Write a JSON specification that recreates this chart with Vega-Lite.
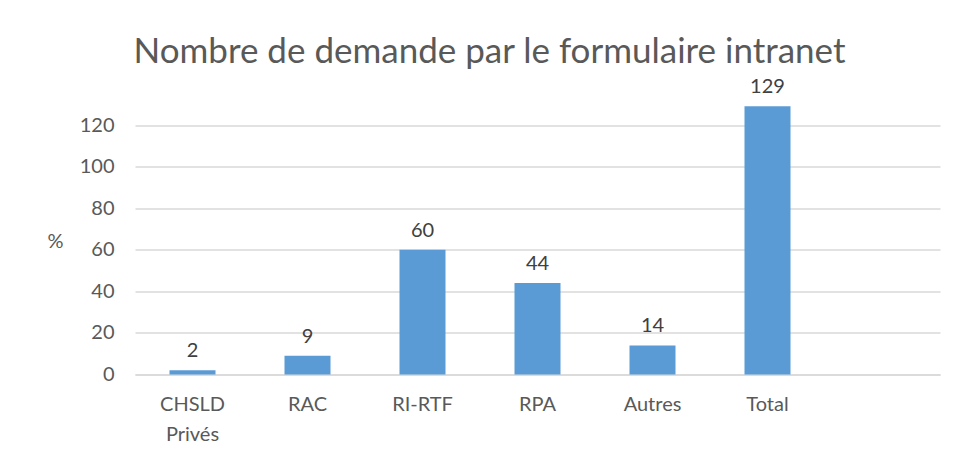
{
  "$schema": "https://vega.github.io/schema/vega-lite/v6.json",
  "width": 805,
  "height": 291,
  "autosize": {"type": "none"},
  "padding": {"left": 135, "top": 83.5, "right": 14, "bottom": 85.5},
  "background": "white",
  "title": {
    "text": "Nombre de demande par le formulaire intranet",
    "font": "Lato",
    "fontSize": 35,
    "fontWeight": "normal",
    "color": "#595959",
    "anchor": "middle",
    "dx": -48,
    "offset": 7
  },
  "data": {
    "values": [
      {"cat": "CHSLD Privés", "value": 2},
      {"cat": "RAC", "value": 9},
      {"cat": "RI-RTF", "value": 60},
      {"cat": "RPA", "value": 44},
      {"cat": "Autres", "value": 14},
      {"cat": "Total", "value": 129}
    ]
  },
  "encoding": {
    "x": {
      "field": "cat",
      "type": "nominal",
      "sort": null,
      "scale": {
        "domain": ["CHSLD Privés", "RAC", "RI-RTF", "RPA", "Autres", "Total", " "],
        "paddingInner": 0.6,
        "paddingOuter": 0.3
      },
      "axis": {
        "title": null,
        "labelAngle": 0,
        "labelFont": "Lato",
        "labelFontSize": 20,
        "labelColor": "#595959",
        "labelPadding": 20,
        "labelBaseline": "top",
        "labelLineHeight": 30,
        "labelExpr": "split(datum.value, ' ')",
        "ticks": false,
        "domainColor": "#d9d9d9",
        "domainWidth": 1.5,
        "grid": false
      }
    },
    "y": {
      "field": "value",
      "type": "quantitative",
      "scale": {"domain": [0, 140], "nice": false},
      "axis": {
        "title": "%",
        "titleAngle": 0,
        "titleFont": "Lato",
        "titleFontSize": 20,
        "titleFontWeight": "normal",
        "titleColor": "#595959",
        "titleX": -80,
        "titleY": 158,
        "titleAlign": "center",
        "titleBaseline": "middle",
        "values": [0, 20, 40, 60, 80, 100, 120],
        "labelFont": "Lato",
        "labelFontSize": 20,
        "labelColor": "#595959",
        "labelPadding": 21,
        "ticks": false,
        "domain": false,
        "grid": true,
        "gridColor": "#d9d9d9",
        "gridWidth": 1.5
      }
    }
  },
  "layer": [
    {"mark": {"type": "bar", "color": "#5B9BD5"}},
    {
      "mark": {
        "type": "text",
        "baseline": "bottom",
        "dy": -9,
        "font": "Lato",
        "fontSize": 20,
        "color": "#404040"
      },
      "encoding": {"text": {"field": "value", "type": "quantitative"}}
    }
  ],
  "config": {"view": {"stroke": null}}
}
